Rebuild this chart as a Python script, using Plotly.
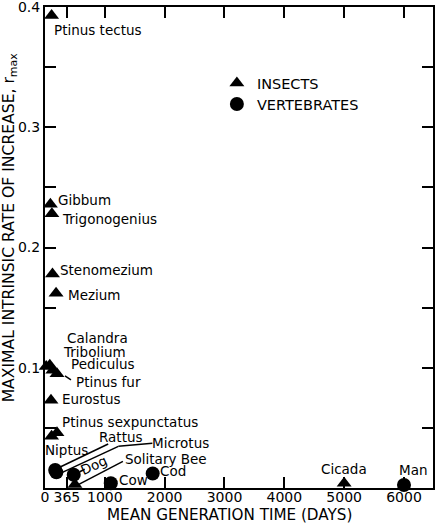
import plotly.graph_objects as go

# ---- data ----
insect_names = ["Ptinus tectus", "Gibbum", "Trigonogenius", "Stenomezium", "Mezium",
                "Calandra", "Tribolium", "Pediculus", "Ptinus fur", "Eurostus",
                "Ptinus sexpunctatus", "Niptus", "Solitary Bee", "Cicada"]
insect_days = [110, 90, 115, 125, 185, 20, 80, 130, 200, 100, 200, 110, 500, 5000]
insect_r = [0.393, 0.236, 0.228, 0.178, 0.162, 0.101, 0.102, 0.098, 0.095, 0.073,
            0.046, 0.043, 0.003, 0.004]

vert_names = ["Rattus", "Microtus", "Dog", "Cow", "Cod", "Man"]
vert_days = [170, 190, 480, 1100, 1800, 6000]
vert_r = [0.015, 0.013, 0.011, 0.004, 0.012, 0.0025]

x_tickvals = [0, 365, 1000, 2000, 3000, 4000, 5000, 6000]
x_ticktext = ["0", "365", "1000", "2000", "3000", "4000", "5000", "6000"]
y_tickvals = [0.05, 0.1, 0.15, 0.2, 0.25, 0.3, 0.35, 0.4]
y_ticktext = [" ", "0.1", " ", "0.2", " ", "0.3", " ", "0.4"]

# label offsets in pixels (dx right, dy up), anchor, angle
label_style = {
    "Ptinus tectus": (0, -15, "left", 0),
    "Gibbum": (6, 4, "left", 0),
    "Trigonogenius": (8, -5, "left", 0),
    "Stenomezium": (6, 4, "left", 0),
    "Mezium": (10, -2, "left", 0),
    "Calandra": (19, 29, "left", 0),
    "Tribolium": (11, 13, "left", 0),
    "Pediculus": (16, 6, "left", 0),
    "Ptinus fur": (17, -8, "left", 0),
    "Eurostus": (9, 1, "left", 0),
    "Ptinus sexpunctatus": (3, 11, "left", 0),
    "Niptus": (-9, -14, "left", 0),
    "Solitary Bee": (48, 25, "left", 0),
    "Cicada": (0, 14, "center", 0),
    "Rattus": (42, 33, "left", 0),
    "Microtus": (94, 29, "left", 0),
    "Dog": (20, 10, "center", -25),
    "Cow": (6, 3, "left", 0),
    "Cod": (5, 3, "left", 0),
    "Man": (9, 15, "center", 0),
}

# leader lines: name -> list of (dx, dy) pixel points (up positive)
leaders = {
    "Rattus": [(53, 26), (5, 3)],
    "Microtus": [(96, 29), (62, 26), (6, 0)],
    "Solitary Bee": [(48, 23), (2, -1)],
    "Dog": [(6, 3), (11, 5.5)],
    "Ptinus fur": [(8, -2), (14, -6)],
}

FONT = "DejaVu Sans"

fig = go.Figure()
fig.add_trace(go.Scatter(x=insect_days, y=insect_r, mode="markers", name="INSECTS",
                         marker=dict(symbol="triangle-up", size=13, color="black"),
                         cliponaxis=False, legend="legend"))
fig.add_trace(go.Scatter(x=vert_days, y=vert_r, mode="markers", name="VERTEBRATES",
                         marker=dict(symbol="circle", size=14, color="black"),
                         cliponaxis=False, legend="legend2"))

pos = dict(zip(insect_names, zip(insect_days, insect_r)))
pos.update(dict(zip(vert_names, zip(vert_days, vert_r))))

annotations = []
for name, (dx, dy, anc, ang) in label_style.items():
    x, y = pos[name]
    annotations.append(dict(x=x, y=y, xref="x", yref="y", text=name, showarrow=False,
                            xanchor=anc, yanchor="middle", xshift=dx, yshift=dy,
                            textangle=ang, font=dict(family=FONT, size=13.5, color="black")))

shapes = []
for name, pts in leaders.items():
    x, y = pos[name]
    for (x0, y0), (x1, y1) in zip(pts[:-1], pts[1:]):
        shapes.append(dict(type="line", xref="x", yref="y", xsizemode="pixel",
                           ysizemode="pixel", xanchor=x, yanchor=y,
                           x0=x0, y0=y0, x1=x1, y1=y1,
                           line=dict(color="black", width=1.5)))

annotations.append(dict(x=0.475, y=-0.056, xref="paper", yref="paper",
                        text="MEAN GENERATION TIME (DAYS)", showarrow=False,
                        xanchor="center", yanchor="middle",
                        font=dict(family=FONT, size=15.2, color="black")))
annotations.append(dict(x=-0.09, y=0.54, xref="paper", yref="paper",
                        text="MAXIMAL INTRINSIC RATE OF INCREASE, r<sub>max</sub>",
                        showarrow=False, textangle=-90,
                        xanchor="center", yanchor="middle",
                        font=dict(family=FONT, size=15.6, color="black")))

axis_common = dict(showline=True, linecolor="black", linewidth=2, mirror="allticks",
                   ticks="inside", tickcolor="black", tickwidth=2, ticklen=11,
                   showgrid=False, zeroline=False, ticklabeloverflow="allow",
                   automargin=False,
                   tickfont=dict(family=FONT, size=14, color="black"))

legend_common = dict(xanchor="left", yanchor="top", bgcolor="rgba(0,0,0,0)",
                     font=dict(family=FONT, size=14.5, color="black"), itemwidth=30)

fig.update_layout(
    width=436, height=524,
    margin=dict(l=45, r=3, t=7, b=36, autoexpand=False),
    plot_bgcolor="white", paper_bgcolor="white",
    xaxis=dict(range=[0, 6485], tickvals=x_tickvals, ticktext=x_ticktext,
               ticklabelstandoff=-5, **axis_common),
    yaxis=dict(range=[0, 0.4], tickvals=y_tickvals, ticktext=y_ticktext,
               **axis_common),
    showlegend=True,
    legend=dict(x=0.443, y=0.8752, **legend_common),
    legend2=dict(x=0.443, y=0.8316, **legend_common),
    annotations=annotations,
    shapes=shapes,
)

fig.write_html("out.html")
